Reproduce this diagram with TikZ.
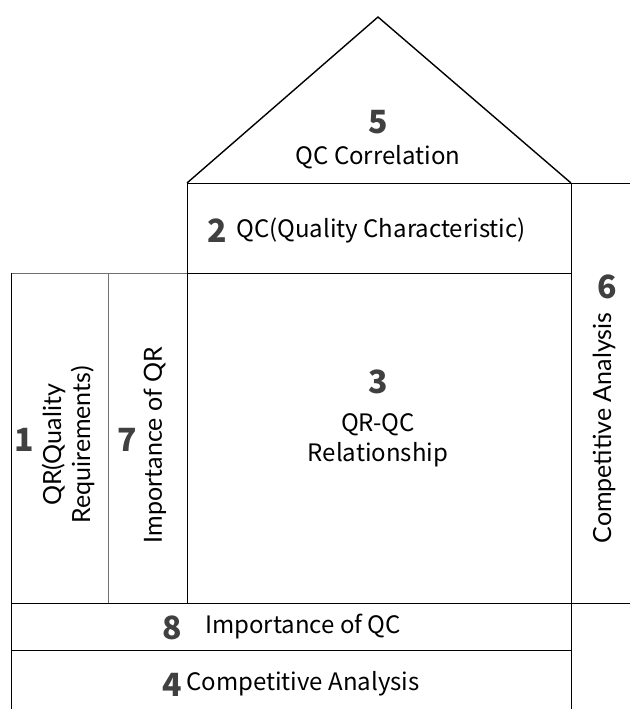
\documentclass[tikz,border=0pt]{standalone}
\usepackage{fontspec}
\setmainfont{Noto Sans CJK SC}
\newfontfamily\latofont{Lato}
\definecolor{numgray}{HTML}{404040}
\definecolor{linegray}{HTML}{707070}
\begin{document}
\begin{tikzpicture}[x=1pt,y=-1pt,
  edge/.style={draw=black,line width=0.9pt},
  thin/.style={draw=linegray,line width=0.8pt},
  roof/.style={draw=black,line width=1.4pt,line join=miter},
  num/.style={font=\fontsize{32}{32}\selectfont\bfseries,text=numgray,inner sep=0pt},
  lab/.style={font=\fontsize{24}{30}\selectfont,inner sep=0pt,align=center},
  rlab/.style={font=\latofont\fontsize{25}{29}\selectfont,inner sep=0pt,align=center,rotate=90}]
\useasboundingbox (0,0) rectangle (630,709);
% roof
\coordinate (apex) at (378,17);
\coordinate (rl) at (187,183);
\coordinate (rr) at (571,183);
\draw[roof] (rl) -- (apex) -- (rr);
% QC row
\coordinate (qcbl) at (187,273);
\coordinate (qcbr) at (571,273);
\draw[edge] (rl) -- (630,183);
\draw[edge] (rl) -- (qcbl);
\draw[edge] (qcbl) -- (qcbr);
\draw[thin] (11,273) -- (qcbl);
% left block
\coordinate (lt) at (11,273);
\coordinate (lb) at (11,709);
\draw[edge] (lt) -- (lb);
\draw[thin] (108,273) -- (108,603);
\draw[edge] (qcbl) -- (187,603);
% right column
\draw[edge] (rr) -- (571,709);
% horizontal bottom lines
\draw[edge] (11,603) -- (630,603);
\draw[edge] (11,650) -- (571,650);
% texts
\node[num] (n5) at (378,122) {5};
\node[lab] (t5) at (378,157) {QC Correlation};
\node[num] (n2) at (217,231) {2};
\node[lab,anchor=west] (t2) at (236,230) {QC(Quality Characteristic)};
\node[num] (n3) at (378,382) {3};
\node[lab] (t3) at (378,440) {QR-QC\\Relationship};
\node[num] (n1) at (24,440) {1};
\node[rlab] (t1) at (68,445) {QR(Quality\\Requirements)};
\node[num] (n7) at (127,440) {7};
\node[rlab] (t7) at (155,445) {Importance of QR};
\node[num] (n6) at (607,287) {6};
\node[rlab] (t6) at (604,428) {Competitive Analysis};
\node[num] (n8) at (172,628) {8};
\node[lab] (t8) at (303,627) {Importance of QC};
\node[num] (n4) at (172,685) {4};
\node[lab] (t4) at (303,684) {Competitive Analysis};
\end{tikzpicture}
\end{document}
